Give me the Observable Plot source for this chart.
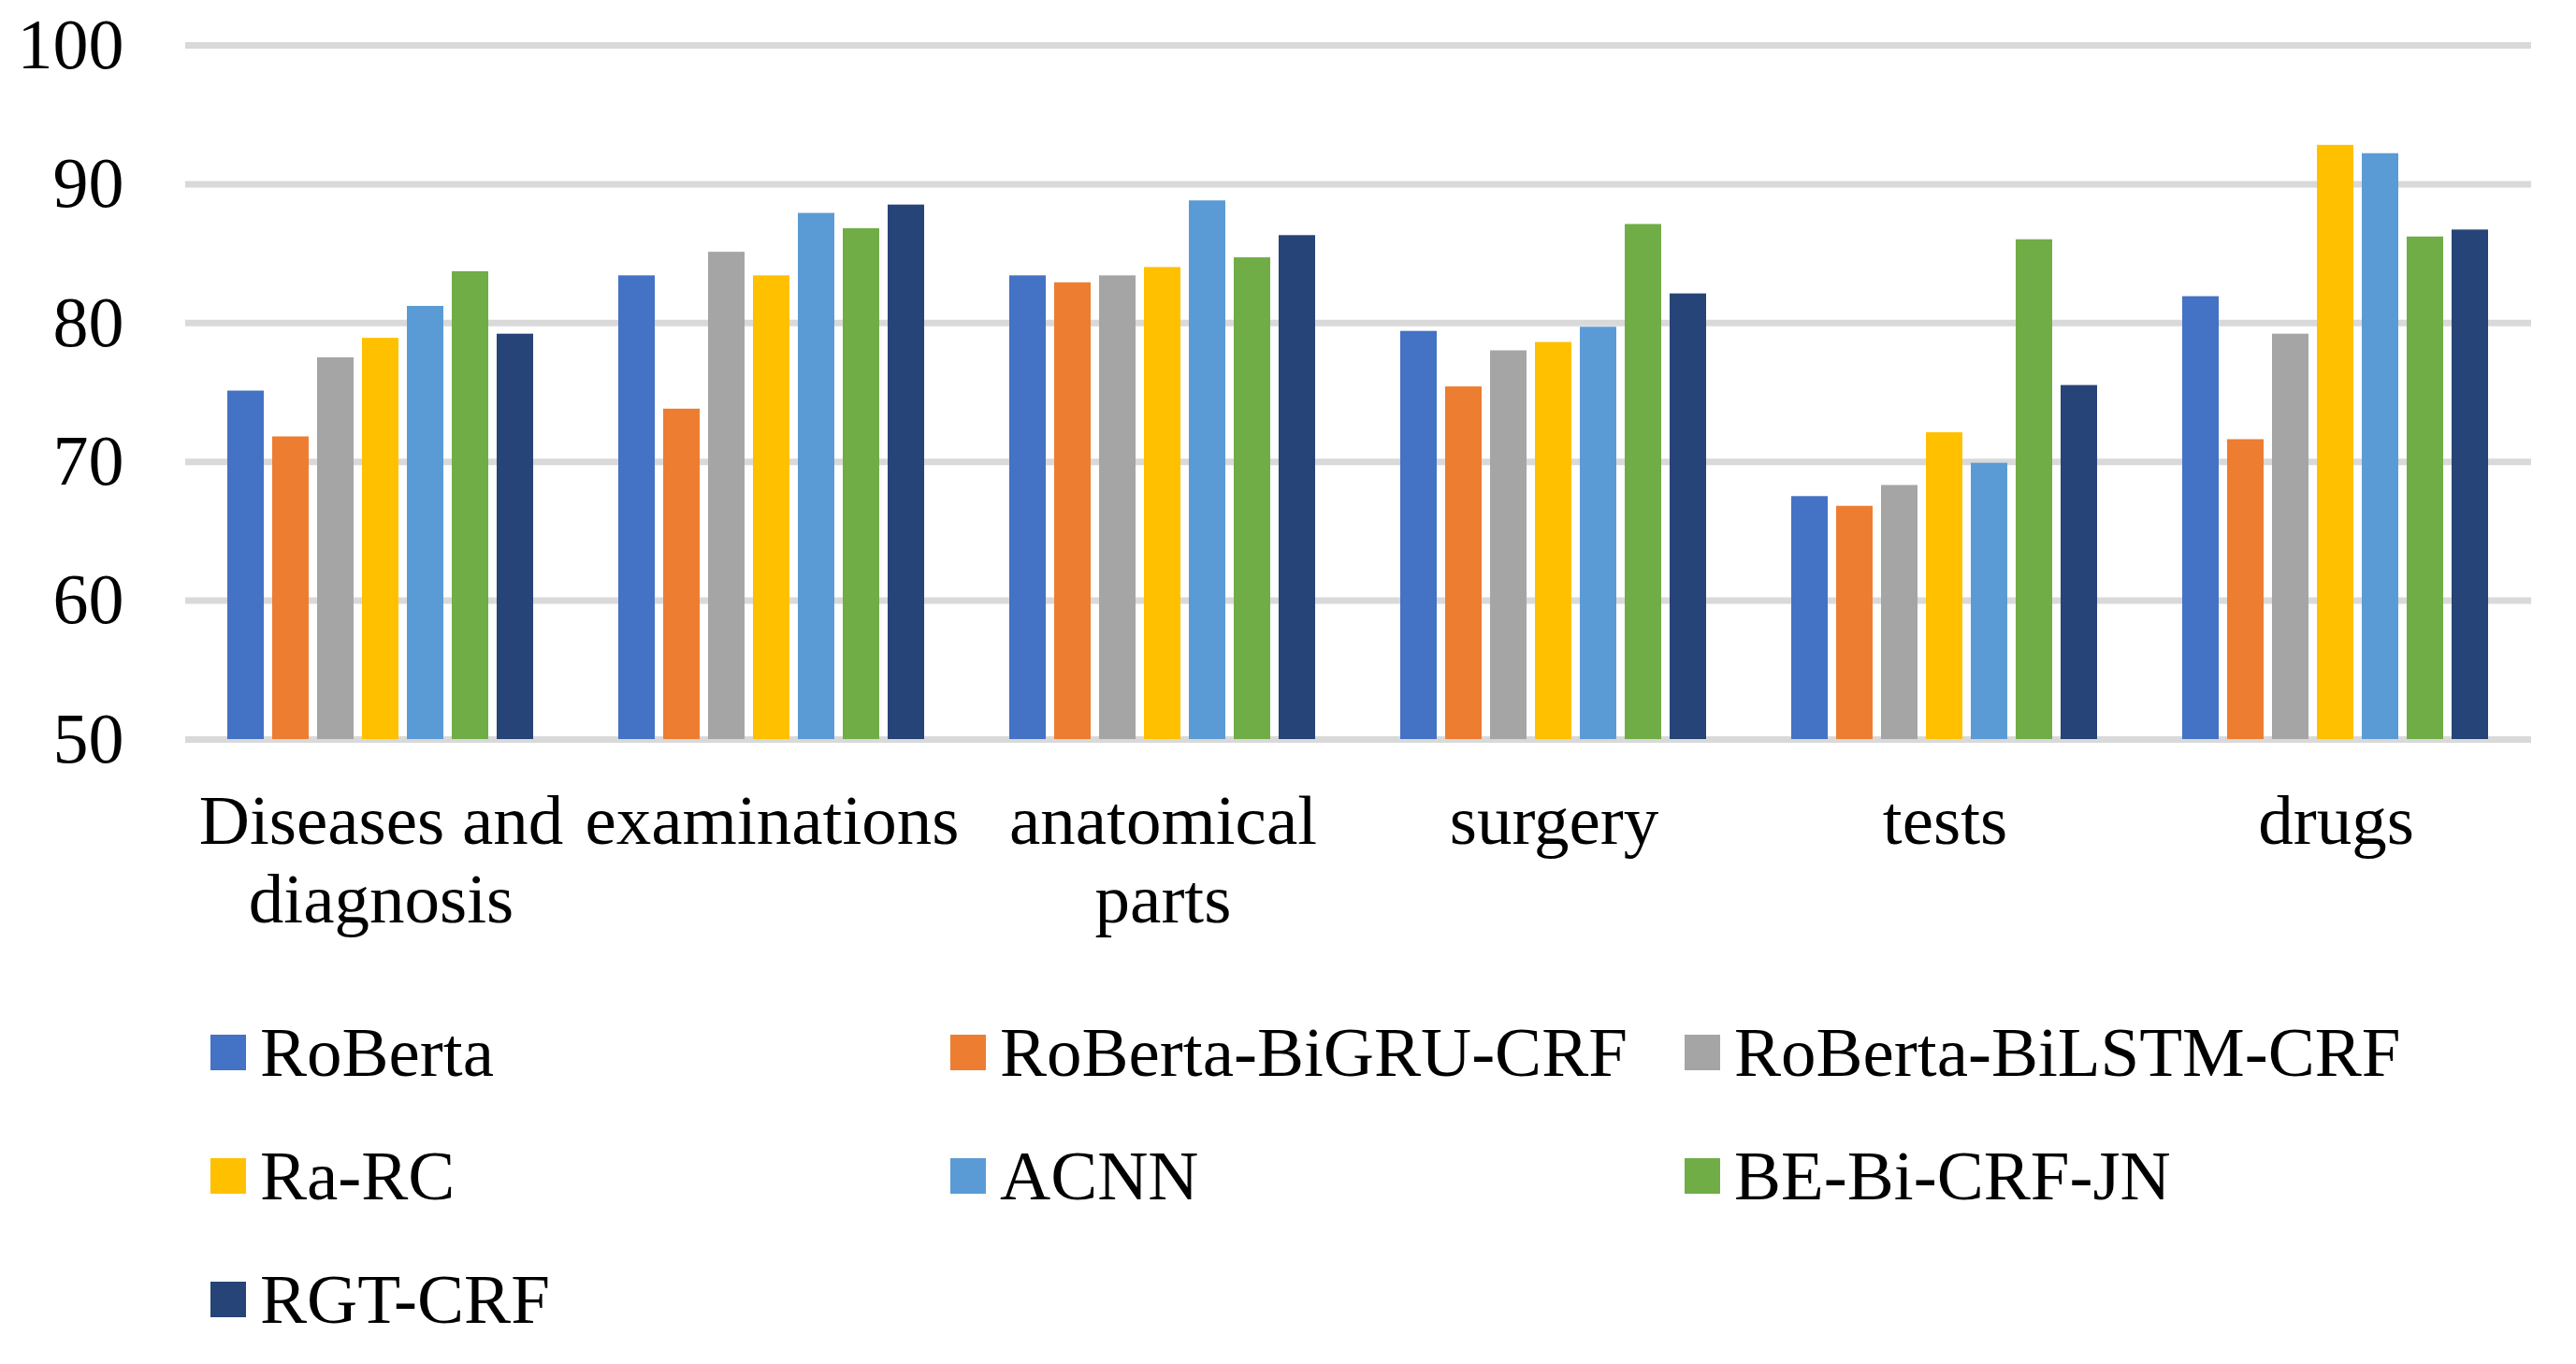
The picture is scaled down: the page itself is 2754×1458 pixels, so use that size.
<!DOCTYPE html>
<html>
<head>
<meta charset="utf-8">
<script src="https://cdn.jsdelivr.net/npm/d3@7"></script>
<script src="https://cdn.jsdelivr.net/npm/@observablehq/plot@0.6"></script>
<style>
  html, body { margin: 0; padding: 0; background: #ffffff; }
  #wrap { position: relative; width: 2754px; height: 1458px; font-family: "Liberation Serif", "Times New Roman", serif; }
  #legend { position: absolute; left: 225px; top: 1059px; display: grid; grid-template-columns: 791px 785px 700px; grid-auto-rows: 132px; }
  .item { display: flex; align-items: center; font-size: 75px; color: #000; white-space: nowrap; }
  .sw { width: 38px; height: 38px; margin-right: 15px; flex: none; }
</style>
</head>
<body>
<div id="wrap"><div id="chart"></div><div id="legend"></div></div>
<script>
const categories = ["Diseases and diagnosis", "examinations", "anatomical parts", "surgery", "tests", "drugs"];
const categoryLabels = ["Diseases and\ndiagnosis", "examinations", "anatomical\nparts", "surgery", "tests", "drugs"];
const models = ["RoBerta", "RoBerta-BiGRU-CRF", "RoBerta-BiLSTM-CRF", "Ra-RC", "ACNN", "BE-Bi-CRF-JN", "RGT-CRF"];
const colors = ["#4472C4", "#ED7D31", "#A5A5A5", "#FFC000", "#5B9BD5", "#70AD47", "#264478"];
const yTicks = [50, 60, 70, 80, 90, 100];

const roberta      = [75.1, 83.4, 83.4, 79.4, 67.5, 81.9];
const robertaBiGRU = [71.8, 73.8, 82.9, 75.4, 66.8, 71.6];
const robertaBiLSTM= [77.5, 85.1, 83.4, 78.0, 68.3, 79.2];
const raRC         = [78.9, 83.4, 84.0, 78.6, 72.1, 92.8];
const acnn         = [81.2, 87.9, 88.8, 79.7, 69.9, 92.2];
const beBiCrfJn    = [83.7, 86.8, 84.7, 87.1, 86.0, 86.2];
const rgtCrf       = [79.2, 88.5, 86.3, 82.1, 75.5, 86.7];

const series = [roberta, robertaBiGRU, robertaBiLSTM, raRC, acnn, beBiCrfJn, rgtCrf];
const rows = [];
categories.forEach((c, ci) => models.forEach((m, mi) => rows.push({category: c, model: m, value: series[mi][ci]})));
const base = yTicks[0];

const chart = Plot.plot({
  width: 2754,
  height: 1030,
  marginTop: 48,
  marginBottom: 240,
  marginLeft: 195,
  marginRight: 46,
  style: {fontFamily: "'Liberation Serif', 'Times New Roman', serif", fontSize: "76px", color: "#000", background: "#fff"},
  fx: {domain: categories, padding: 0, label: null, axis: null},
  x: {domain: models, paddingInner: 0.184, paddingOuter: 0.867, axis: null},
  y: {domain: [50, 100], label: null},
  color: {domain: models, range: colors},
  marks: [
    Plot.ruleY(yTicks, {stroke: "#d9d9d9", strokeWidth: 7}),
    Plot.barY(rows, {fx: "category", x: "model", y1: base, y2: "value", fill: "model"}),
    Plot.axisY(yTicks, {tickSize: 0, tickPadding: 66, label: null, fontSize: 76}),
    Plot.axisFx({anchor: "bottom", tickSize: 0, tickPadding: 52, label: null, fontSize: 75, lineHeight: 1.12,
      tickFormat: d => categoryLabels[categories.indexOf(d)]})
  ]
});
document.getElementById("chart").appendChild(chart);

const legend = document.getElementById("legend");
models.forEach((m, i) => {
  const it = document.createElement("div");
  it.className = "item";
  const sw = document.createElement("span");
  sw.className = "sw";
  sw.style.background = colors[i];
  it.appendChild(sw);
  it.appendChild(document.createTextNode(m));
  legend.appendChild(it);
});
</script>
</body>
</html>
